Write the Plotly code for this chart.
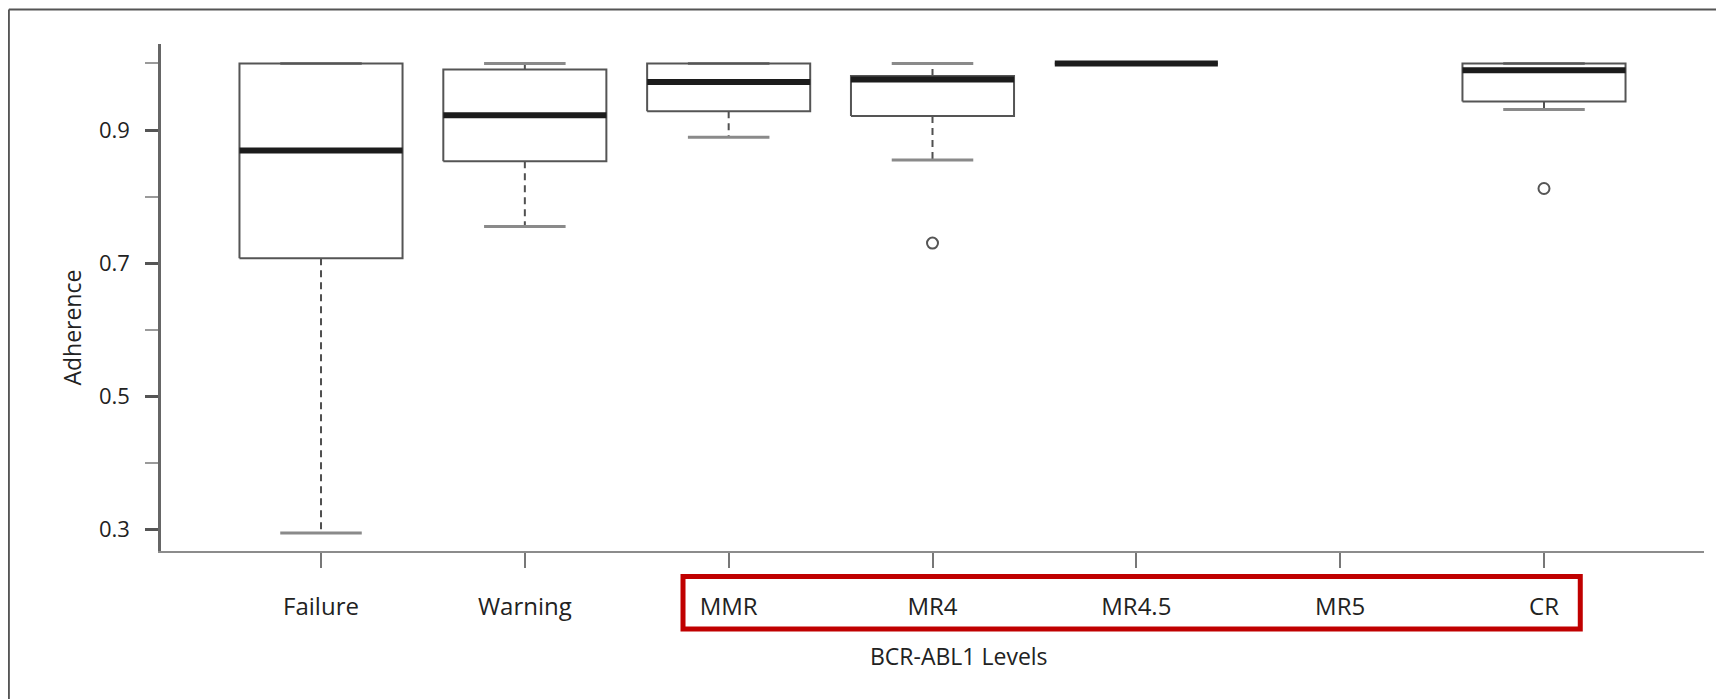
import plotly.graph_objects as go

# ---- data ----
categories = ["Failure", "Warning", "MMR", "MR4", "MR4.5", "MR5", "CR"]
lower_whisker = [0.294, 0.755, 0.889, 0.855, 1.000, None, 0.931]
q1_values     = [0.707, 0.853, 0.928, 0.921, 1.000, None, 0.943]
median_values = [0.869, 0.922, 0.972, 0.976, 1.000, None, 0.990]
q3_values     = [1.000, 0.991, 1.000, 0.981, 1.000, None, 1.000]
upper_whisker = [1.000, 1.000, 1.000, 1.000, 1.000, None, 1.000]
outlier_groups = ["MR4", "CR"]
outlier_values = [0.730, 0.812]

y_tick_major = [0.3, 0.5, 0.7, 0.9]
y_tick_minor = [0.4, 0.6, 0.8, 1.0]

# ---- styling ----
HALF_BOX = 0.40
HALF_CAP = 0.20
FONT = "Open Sans, Segoe UI, Noto Sans, sans-serif"
TXT = "#222222"

bx, by, wx, wy, cx, cy, mx, my = [], [], [], [], [], [], [], []
for i, cat in enumerate(categories):
    if median_values[i] is None:
        continue
    lo, a, m, b, hi = lower_whisker[i], q1_values[i], median_values[i], q3_values[i], upper_whisker[i]
    bx += [i - HALF_BOX, i + HALF_BOX, i + HALF_BOX, i - HALF_BOX, i - HALF_BOX, None]
    by += [a, a, b, b, a, None]
    wx += [i, i, None, i, i, None]
    wy += [a, lo, None, b, hi, None]
    cx += [i - HALF_CAP, i + HALF_CAP, None, i - HALF_CAP, i + HALF_CAP, None]
    cy += [lo, lo, None, hi, hi, None]
    mx += [i - HALF_BOX, i + HALF_BOX, None]
    my += [m, m, None]

ox = [categories.index(g) for g in outlier_groups]

fig = go.Figure()
fig.add_trace(go.Scatter(x=wx, y=wy, mode="lines", hoverinfo="skip",
                         line=dict(color="#505050", width=2, dash="7px,5px")))
fig.add_trace(go.Scatter(x=cx, y=cy, mode="lines", hoverinfo="skip",
                         line=dict(color="#8a8a8a", width=3)))
fig.add_trace(go.Scatter(x=bx, y=by, mode="lines", hoverinfo="skip",
                         line=dict(color="#555555", width=2)))
fig.add_trace(go.Scatter(x=mx, y=my, mode="lines", hoverinfo="skip",
                         line=dict(color="#1c1c1c", width=6)))
fig.add_trace(go.Scatter(x=ox, y=outlier_values, mode="markers",
                         marker=dict(symbol="circle-open", size=11,
                                     color="#555555", line=dict(width=2, color="#555555"))))

# the page body has an 8px default margin, so the figure is 8px smaller
fig.update_layout(
    width=1716, height=691, autosize=False,
    margin=dict(l=153, r=20, t=36, b=148),
    paper_bgcolor="white", plot_bgcolor="white",
    showlegend=False,
    font=dict(family=FONT, size=24, color=TXT),
    xaxis=dict(
        range=[-0.785, 6.785],
        tickmode="array", tickvals=list(range(len(categories))), ticktext=categories,
        showline=True, linecolor="#8c8c8c", linewidth=2,
        ticks="outside", ticklen=15, tickwidth=2, tickcolor="#777777",
        ticklabelstandoff=18,
        showgrid=False, zeroline=False,
        tickfont=dict(family=FONT, size=24, color=TXT),
    ),
    yaxis=dict(
        range=[0.267, 1.0293],
        tickmode="array", tickvals=y_tick_major, ticktext=[f"{v:.1f}" for v in y_tick_major],
        showline=True, linecolor="#666666", linewidth=2.5,
        ticks="outside", ticklen=13, tickwidth=2.5, tickcolor="#555555",
        ticklabelstandoff=11,
        minor=dict(tickmode="array", tickvals=y_tick_minor, ticks="outside",
                   ticklen=13, tickwidth=1.5, tickcolor="#9a9a9a", showgrid=False),
        showgrid=False, zeroline=False,
        tickfont=dict(family=FONT, size=22, color=TXT),
    ),
    annotations=[
        dict(text="Adherence", textangle=-90, xref="paper", yref="paper",
             x=-0.0579, y=0.44, xanchor="center", yanchor="middle", showarrow=False,
             font=dict(family=FONT, size=23, color=TXT)),
        dict(text="BCR-ABL1 Levels", xref="x", yref="paper",
             x=3.13, y=-0.207, xanchor="center", yanchor="middle", showarrow=False,
             font=dict(family=FONT, size=23, color=TXT)),
    ],
    shapes=[
        # highlight box around the molecular response levels
        dict(type="rect", xref="x", yref="paper", x0=1.776, x1=6.178, y0=-0.1538, y1=-0.0503,
             line=dict(color="#C00000", width=5), fillcolor="rgba(0,0,0,0)"),
        # outer frame (top and left edges visible)
        dict(type="line", xref="paper", yref="paper", x0=-0.0986, x1=1.05, y0=1.068, y1=1.068,
             line=dict(color="#555555", width=2)),
        dict(type="line", xref="paper", yref="paper", x0=-0.0986, x1=-0.0986, y0=-0.35, y1=1.068,
             line=dict(color="#555555", width=2)),
    ],
)

fig.write_html("out.html")
